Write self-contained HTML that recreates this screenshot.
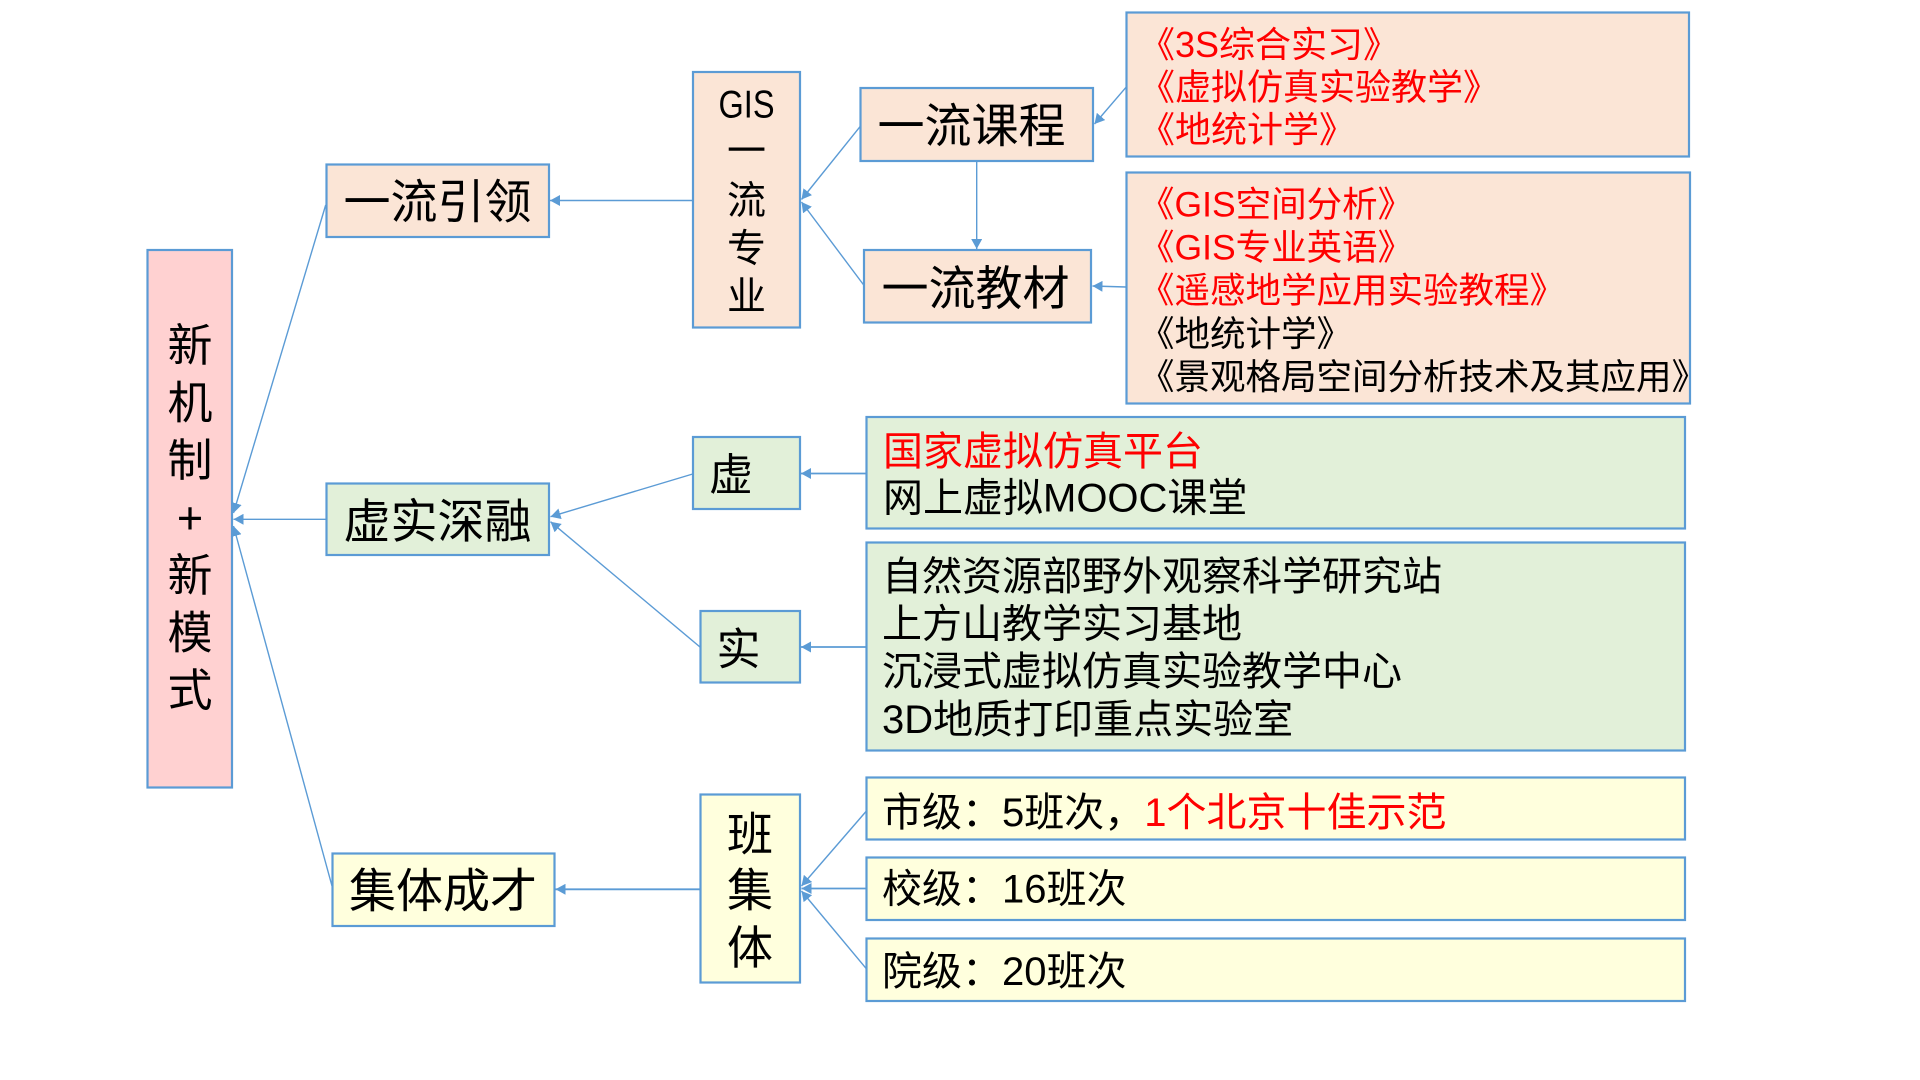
<!DOCTYPE html>
<html>
<head>
<meta charset="utf-8">
<style>
html,body{margin:0;padding:0;background:#fff;}
svg{display:block;}
text{font-family:"Liberation Sans","Noto Sans CJK SC",sans-serif;fill:#000;}
.r{fill:#FF0000;}
</style>
</head>
<body>
<svg width="1920" height="1080" viewBox="0 0 1920 1080" xmlns="http://www.w3.org/2000/svg">
<defs>
<marker id="a" viewBox="0 0 10 11" refX="10" refY="5.5" markerWidth="10" markerHeight="11" markerUnits="userSpaceOnUse" orient="auto">
<path d="M0,0 L10,5.5 L0,11 z" fill="#5B9BD5"/>
</marker>
</defs>
<rect width="1920" height="1080" fill="#fff"/>

<!-- boxes -->
<g stroke="#5B9BD5" stroke-width="2.2">
<rect x="147.5" y="250" width="84.5" height="537.5" fill="#FFD1D1"/>
<rect x="326.5" y="164.5" width="222.5" height="72.5" fill="#FBE5D6"/>
<rect x="326.5" y="483.5" width="222.5" height="71.5" fill="#E2F0D9"/>
<rect x="332.5" y="853.5" width="222" height="72.5" fill="#FFFFDD"/>
<rect x="693" y="72" width="107" height="255.5" fill="#FBE5D6"/>
<rect x="693" y="437" width="107" height="72" fill="#E2F0D9"/>
<rect x="700.5" y="611" width="99.5" height="71.5" fill="#E2F0D9"/>
<rect x="700.5" y="794.5" width="99.5" height="188" fill="#FFFFDD"/>
<rect x="860.5" y="88" width="232.5" height="73" fill="#FBE5D6"/>
<rect x="864" y="250" width="227" height="72.5" fill="#FBE5D6"/>
<rect x="1126.5" y="12.5" width="562.5" height="144" fill="#FBE5D6"/>
<rect x="1126.5" y="172.5" width="563.5" height="231" fill="#FBE5D6"/>
<rect x="866.5" y="417" width="818.5" height="111.5" fill="#E2F0D9"/>
<rect x="866.5" y="542.5" width="818.5" height="208" fill="#E2F0D9"/>
<rect x="866.5" y="777.5" width="818.5" height="62" fill="#FFFFDD"/>
<rect x="866.5" y="857.5" width="818.5" height="62.5" fill="#FFFFDD"/>
<rect x="866.5" y="938.5" width="818.5" height="62.5" fill="#FFFFDD"/>
</g>

<!-- connectors -->
<g stroke="#5B9BD5" stroke-width="1.4" fill="none" marker-end="url(#a)">
<path d="M692.7,200.5 L550,200.5"/>
<path d="M860,126.7 L801.5,199.5"/>
<path d="M863.7,285 L801.5,202"/>
<path d="M1126,87.3 L1094.5,124"/>
<path d="M1126,287 L1092.5,286"/>
<path d="M976.7,161.5 L976.7,249"/>
<path d="M325.7,205 L233.5,513"/>
<path d="M325.7,519.3 L233.5,519.3"/>
<path d="M332,886 L233.5,526"/>
<path d="M692.7,474 L550.5,516.7"/>
<path d="M700,647 L550.5,521.7"/>
<path d="M866,473.5 L801,473.5" stroke-width="1.8"/>
<path d="M866,647 L801,647" stroke-width="1.8"/>
<path d="M700,889.3 L555.5,889.3" stroke-width="1.8"/>
<path d="M866,811.5 L801.5,886"/>
<path d="M866,888.5 L801.5,888.5" stroke-width="1.8"/>
<path d="M866,968.3 L801.5,891"/>
</g>

<!-- 新机制+新模式 -->
<g font-size="45" text-anchor="middle">
<text x="190" y="361">新</text>
<text x="190" y="418.5">机</text>
<text x="190" y="476">制</text>
<text x="190" y="533.5">+</text>
<text x="190" y="591">新</text>
<text x="190" y="648.5">模</text>
<text x="190" y="706">式</text>
</g>

<!-- level 1 -->
<g font-size="47" text-anchor="middle">
<text x="437.5" y="218.5">一流引领</text>
<text x="437.5" y="538">虚实深融</text>
<text x="443" y="907.5">集体成才</text>
<text x="971.5" y="142.5">一流课程</text>
<text x="975.5" y="305">一流教材</text>
</g>

<!-- GIS column -->
<g font-size="39" text-anchor="middle">
<text x="746.5" y="117.5" textLength="56" lengthAdjust="spacingAndGlyphs">GIS</text>
<text x="746.5" y="164.5">一</text>
<text x="746.5" y="213.8">流</text>
<text x="746.5" y="261.8">专</text>
<text x="746.5" y="309.8">业</text>
</g>

<!-- 虚 / 实 -->
<g font-size="44">
<text x="709" y="490">虚</text>
<text x="716.5" y="664.5">实</text>
</g>

<!-- 班集体 -->
<g font-size="46" text-anchor="middle">
<text x="750" y="850.5">班</text>
<text x="750" y="906.5">集</text>
<text x="750" y="964">体</text>
</g>

<!-- course list -->
<g font-size="36">
<text class="r" x="1139" y="57">《3S综合实习》</text>
<text class="r" x="1139" y="99.5">《虚拟仿真实验教学》</text>
<text class="r" x="1139" y="142">《地统计学》</text>
</g>
<g font-size="35.5">
<text class="r" x="1139" y="216.5">《GIS空间分析》</text>
<text class="r" x="1139" y="259.5">《GIS专业英语》</text>
<text class="r" x="1139" y="302.5">《遥感地学应用实验教程》</text>
<text x="1139" y="346">《地统计学》</text>
<text x="1139" y="389">《景观格局空间分析技术及其应用》</text>
</g>

<!-- green boxes -->
<g font-size="40">
<text class="r" x="883" y="465">国家虚拟仿真平台</text>
<text x="883" y="511.5">网上虚拟MOOC课堂</text>
<text x="882" y="590">自然资源部野外观察科学研究站</text>
<text x="882" y="637.5">上方山教学实习基地</text>
<text x="882" y="685">沉浸式虚拟仿真实验教学中心</text>
<text x="882" y="733">3D地质打印重点实验室</text>
</g>

<!-- yellow boxes -->
<g font-size="40">
<text x="882" y="826">市级：5班次，<tspan class="r" style="fill:#FF0000">1个北京十佳示范</tspan></text>
<text x="882" y="902.5">校级：16班次</text>
<text x="882" y="985">院级：20班次</text>
</g>
</svg>
</body>
</html>
